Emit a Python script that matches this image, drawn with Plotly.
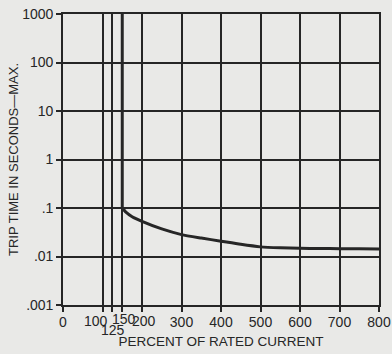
import plotly.graph_objects as go

# Data
curve_x = [150, 150, 160, 175, 200, 250, 300, 350, 400, 450, 500, 550, 600, 650, 700, 750, 800]
curve_y = [1000, 0.1, 0.081, 0.066, 0.053, 0.037, 0.0283, 0.024, 0.0207, 0.0178, 0.0158, 0.0151, 0.0148, 0.0146, 0.0145, 0.0144, 0.0143]

x_tick_vals = [0, 100, 125, 150, 200, 300, 400, 500, 600, 700, 800]
x_tick_text = ["0", "", "", "", "", "300", "400", "500", "600", "700", "800"]
x_crowded_vals = [100, 125, 150, 200]
x_crowded_text = ["100", "125", "150", "200"]
x_crowded_shift = [-7, 1, 2, 2]
x_crowded_yshift = [0, -9, 2, 0]

y_tick_vals = [0.001, 0.01, 0.1, 1, 10, 100, 1000]
y_tick_text = [".001", ".01", ".1", "1", "10", "100", "1000"]

ink = "#262626"
paper = "#e9e9e7"
font_family = "Liberation Sans, Arial, sans-serif"

fig = go.Figure()
# vertical (instantaneous) part
fig.add_trace(go.Scatter(
    x=curve_x[:2], y=curve_y[:2], mode="lines",
    line=dict(color=ink, width=3),
    showlegend=False, hoverinfo="skip",
))
# inverse-time curve
fig.add_trace(go.Scatter(
    x=curve_x[1:], y=curve_y[1:], mode="lines",
    line=dict(color=ink, width=3, shape="spline", smoothing=0.6),
    showlegend=False, hoverinfo="skip",
))

for xv, txt, xs, ys in zip(x_crowded_vals, x_crowded_text, x_crowded_shift, x_crowded_yshift):
    fig.add_annotation(
        x=xv, xref="x", y=0, yref="paper", text=txt, showarrow=False,
        yanchor="top", xanchor="center", xshift=xs, yshift=-6 + ys,
        font=dict(family=font_family, size=14, color=ink),
    )

fig.update_layout(
    width=392, height=354,
    margin=dict(l=63, r=13, t=14, b=49),
    paper_bgcolor=paper, plot_bgcolor=paper,
    font=dict(family=font_family, size=14, color=ink),
    xaxis=dict(
        range=[0, 800], tickmode="array", tickvals=x_tick_vals, ticktext=x_tick_text,
        tickangle=0, showgrid=True, gridcolor=ink, gridwidth=1.6,
        showline=True, linecolor=ink, linewidth=1.6, mirror=True,
        zeroline=False, ticks="outside", ticklen=5, tickwidth=1.5, tickcolor=ink,
        ticklabelstandoff=-2,
        automargin=False,
        title=dict(text="PERCENT OF RATED CURRENT", standoff=8, font=dict(size=13.5)),
    ),
    yaxis=dict(
        type="log", range=[-3, 3], tickmode="array", tickvals=y_tick_vals, ticktext=y_tick_text,
        showgrid=True, gridcolor=ink, gridwidth=1.6,
        showline=True, linecolor=ink, linewidth=1.6, mirror=True,
        zeroline=False, ticks="outside", ticklen=5, tickwidth=1.5, tickcolor=ink,
        automargin=False,
        title=dict(text="TRIP TIME IN SECONDS—MAX.", standoff=1, font=dict(size=13)),
    ),
)

fig.write_html(
    "out.html",
    config={"displayModeBar": False},
    post_script="document.body.style.margin='0';document.body.style.background='%s';" % paper,
)
